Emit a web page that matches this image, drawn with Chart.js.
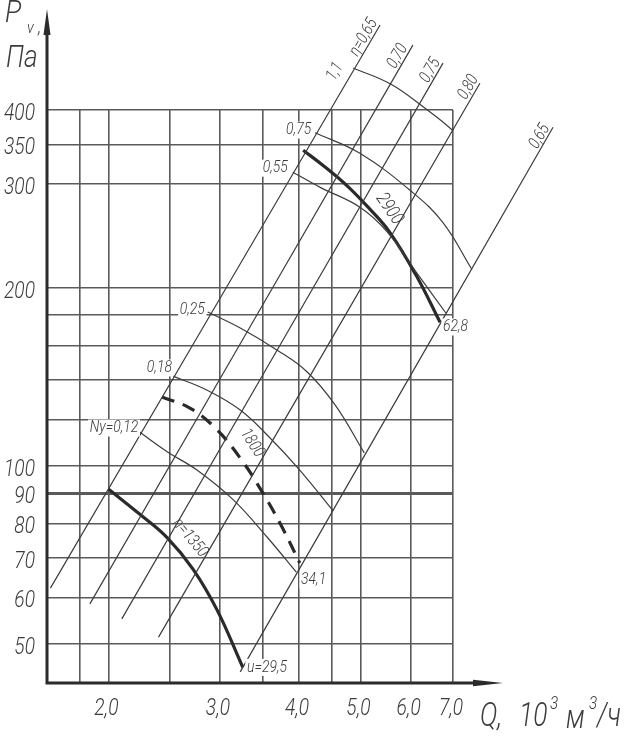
<!DOCTYPE html>
<html>
<head>
<meta charset="utf-8">
<script src="https://cdn.jsdelivr.net/npm/chart.js@4.4.1/dist/chart.umd.min.js"></script>
<style>
  html, body { margin: 0; padding: 0; background: #fff; }
  canvas { display: block; }
</style>
</head>
<body>
<canvas id="chart" width="639" height="739"></canvas>
<script>
// Q, 10^3 m3/h (x) and Pv, Pa (y), both logarithmic
const xGrid = [1.8, 2.0, 2.5, 3.0, 3.5, 4.0, 4.5, 5.0, 6.0, 7.0];
const xLabels = [2.0, 3.0, 4.0, 5.0, 6.0, 7.0];
const yGrid = [50, 60, 70, 80, 90, 100, 120, 140, 160, 180, 200, 300, 350, 400];
const yLabels = [50, 60, 70, 80, 90, 100, 200, 300, 350, 400];

// fan characteristics, n = 1350 / 1800 / 2900 rpm
const q1350 = [2.00, 2.24, 2.48, 2.72, 2.97, 3.26];
const p1350 = [91.5, 83.0, 75.6, 67.0, 57.1, 45.7];
const q1800 = [2.43, 2.69, 2.95, 3.23, 3.50, 3.76, 4.01];
const p1800 = [130.9, 125.4, 116.0, 103.2, 90.4, 78.9, 68.6];
const q2900 = [4.06, 4.37, 4.76, 5.14, 5.57, 6.14, 6.68];
const p2900 = [342, 322, 298, 274, 248, 209, 175];

// installed power Ny, kW
const qN012 = [2.24, 2.48, 2.76, 3.15, 3.56, 3.96];
const pN012 = [114.2, 105.7, 98.5, 87.7, 75.9, 66.2];
const qN018 = [2.53, 2.86, 3.23, 3.60, 4.01, 4.53];
const pN018 = [142.0, 134.5, 124.4, 111.6, 98.5, 84.0];
const qN025 = [2.87, 3.23, 3.69, 4.12, 4.56, 5.07];
const pN025 = [182.2, 171.2, 157.2, 144.3, 126.9, 105.3];
const qN055 = [3.91, 4.32, 4.99, 5.51, 6.14, 6.82];
const pN055 = [314, 296, 274, 249, 212, 181.5];
const qN075 = [4.24, 4.99, 6.05, 6.75, 7.50];
const pN075 = [366, 338, 290, 258, 215];
const qN110 = [4.87, 5.57, 6.28, 7.00, 7.64, 8.52];
const pN110 = [471, 443, 405, 369, 333, 274];

// efficiency rays (η = 0.65, 0.70, 0.75, 0.80, 0.65)
const qEta065 = [1.62, 5.37];
const pEta065 = [62.2, 557];
const qEta070 = [1.87, 6.05];
const pEta070 = [58.5, 515];
const qEta075 = [2.10, 6.75];
const pEta075 = [55.2, 480];
const qEta080 = [2.40, 7.72];
const pEta080 = [51.4, 444];
const qEta065b = [3.23, 10.07];
const pEta065b = [44.9, 374];

const FONT = 'Roboto, "Liberation Sans", sans-serif';
const INK = '#3c3c3c';

function pts(q, p) {
    return q.map((v, i) => ({x: v, y: p[i]}));
}

function line(q, p, width, dash) {
    return {
        data: pts(q, p),
        borderColor: width > 2 ? '#2a2a2a' : INK,
        borderWidth: width,
        borderDash: dash || [],
        pointRadius: 0,
        tension: 0.4,
        clip: false
    };
}

// text marks next to the lines
const notes = [
    {t: 'Nу=0,12', q: 2.23, p: 116, align: 'right', bg: true},
    {t: '0,18', q: 2.52, p: 146.6, align: 'right', bg: true},
    {t: '0,25', q: 2.84, p: 183.7, align: 'right', bg: true},
    {t: '0,55', q: 3.84, p: 319, align: 'right', bg: true},
    {t: '0,75', q: 4.18, p: 370, align: 'right', bg: true},
    {t: '1,1', q: 4.56, p: 464, align: 'center', rot: -60},
    {t: 'u=29,5', q: 3.31, p: 45.7, align: 'left', bg: true},
    {t: '34,1', q: 4.03, p: 64.2, align: 'left', bg: true},
    {t: '62,8', q: 6.75, p: 171.9, align: 'left', bg: true},
    {t: 'n=1350', q: 2.69, p: 75.6, align: 'center', rot: 50},
    {t: '1800', q: 3.37, p: 109.4, align: 'center', rot: 57},
    {t: '2900', q: 5.55, p: 272, align: 'center', rot: 55, size: 19},
    {t: 'η=0,65', q: 5.18, p: 523, align: 'center', rot: -60, ray: true},
    {t: '0,70', q: 5.86, p: 486, align: 'center', rot: -60, ray: true},
    {t: '0,75', q: 6.60, p: 460, align: 'center', rot: -60, ray: true},
    {t: '0,80', q: 7.58, p: 430.8, align: 'center', rot: -60, ray: true},
    {t: '0,65', q: 9.82, p: 355.9, align: 'center', rot: -60, ray: true}
];

function drawText(ctx, s, px, py, o) {
    const size = o.size || 17;
    ctx.save();
    ctx.translate(px, py);
    ctx.rotate((o.rot || 0) * Math.PI / 180);
    ctx.scale(o.sx || 0.82, 1);
    ctx.font = 'italic 300 ' + size + 'px ' + FONT;
    ctx.textAlign = o.align || 'left';
    ctx.textBaseline = o.base || 'middle';
    if (o.bg) {
        const w = ctx.measureText(s).width;
        const x0 = o.align === 'right' ? -w : (o.align === 'center' ? -w / 2 : 0);
        ctx.fillStyle = '#fff';
        ctx.fillRect(x0 - 2, -size / 2, w + 4, size);
    }
    ctx.fillStyle = INK;
    ctx.fillText(s, 0, o.dy || 0);
    ctx.restore();
}

const nomogram = {
    id: 'nomogram',
    afterDatasetsDraw(chart) {
        const {ctx, chartArea: a, scales: {x, y}} = chart;
        ctx.save();

        // axes with arrows
        ctx.strokeStyle = '#2b2b2b';
        ctx.fillStyle = '#2b2b2b';
        ctx.lineWidth = 3;
        ctx.beginPath();
        ctx.moveTo(a.left, a.bottom + 1.5);
        ctx.lineTo(a.left, 30);
        ctx.moveTo(a.left - 1.5, a.bottom);
        ctx.lineTo(478, a.bottom);
        ctx.stroke();
        ctx.beginPath();
        ctx.moveTo(a.left, 9);
        ctx.lineTo(a.left - 3.5, 35);
        ctx.lineTo(a.left + 3.5, 35);
        ctx.closePath();
        ctx.fill();
        ctx.beginPath();
        ctx.moveTo(503, a.bottom);
        ctx.lineTo(473, a.bottom - 3.2);
        ctx.lineTo(473, a.bottom + 3.2);
        ctx.closePath();
        ctx.fill();

        // tick labels
        yLabels.forEach(v => {
            drawText(ctx, String(v), a.left - 12, y.getPixelForValue(v) + 4, {size: 24, align: 'right', sx: 0.8});
        });
        xLabels.forEach(v => {
            drawText(ctx, v.toFixed(1).replace('.', ','), x.getPixelForValue(v) - 2, 709, {size: 24, align: 'center', sx: 0.8});
        });

        // axis titles
        drawText(ctx, 'P', 5, 14, {size: 32, sx: 0.85});
        drawText(ctx, 'v', 27, 29, {size: 17, sx: 0.85});
        drawText(ctx, ',', 38, 28, {size: 20, sx: 0.85});
        drawText(ctx, 'Па', 6, 59, {size: 31, sx: 0.85});
        drawText(ctx, 'Q,', 480, 718, {size: 33, sx: 0.8});
        drawText(ctx, '10', 519, 718, {size: 33, sx: 0.8});
        drawText(ctx, '3', 550, 704, {size: 19, sx: 0.8});
        drawText(ctx, 'м', 566, 720, {size: 33, sx: 0.8});
        drawText(ctx, '3', 589, 704, {size: 19, sx: 0.8});
        drawText(ctx, '/ч', 597, 718, {size: 33, sx: 0.8});

        // notes on the lines
        notes.forEach(n => {
            const px = x.getPixelForValue(n.q);
            const py = y.getPixelForValue(n.p);
            drawText(ctx, n.t, px, py, {
                size: n.size || 17, align: n.align, rot: n.rot, bg: n.bg,
                base: n.ray ? 'alphabetic' : 'middle', dy: n.ray ? -3 : 0
            });
        });
        ctx.restore();
    }
};

new Chart(document.getElementById('chart'), {
    type: 'line',
    data: {
        datasets: [
            line(qEta065, pEta065, 1.2),
            line(qEta070, pEta070, 1.2),
            line(qEta075, pEta075, 1.2),
            line(qEta080, pEta080, 1.2),
            line(qEta065b, pEta065b, 1.2),
            line(qN012, pN012, 1.2),
            line(qN018, pN018, 1.2),
            line(qN025, pN025, 1.2),
            line(qN055, pN055, 1.2),
            line(qN075, pN075, 1.2),
            line(qN110, pN110, 1.2),
            line(q1350, p1350, 3.2),
            line(q1800, p1800, 3.2, [13, 9]),
            line(q2900, p2900, 3.2)
        ]
    },
    options: {
        responsive: false,
        devicePixelRatio: 1,
        animation: false,
        layout: {padding: {top: 110, right: 186, left: 0, bottom: 0}},
        plugins: {legend: {display: false}, tooltip: {enabled: false}},
        scales: {
            x: {
                type: 'logarithmic',
                min: 1.6,
                max: 7.0,
                afterBuildTicks: s => { s.ticks = xGrid.map(v => ({value: v})); },
                afterFit: s => { s.height = 56; },
                ticks: {display: false},
                border: {display: false},
                grid: {color: '#5a5a5a', lineWidth: 1.6, drawTicks: false}
            },
            y: {
                type: 'logarithmic',
                min: 43,
                max: 400,
                afterBuildTicks: s => { s.ticks = yGrid.map(v => ({value: v})); },
                afterFit: s => { s.width = 47; },
                ticks: {display: false},
                border: {display: false},
                grid: {
                    color: '#5a5a5a',
                    lineWidth: c => (c.tick && c.tick.value === 90 ? 3 : 1.6),
                    drawTicks: false
                }
            }
        }
    },
    plugins: [nomogram]
});
</script>
</body>
</html>
